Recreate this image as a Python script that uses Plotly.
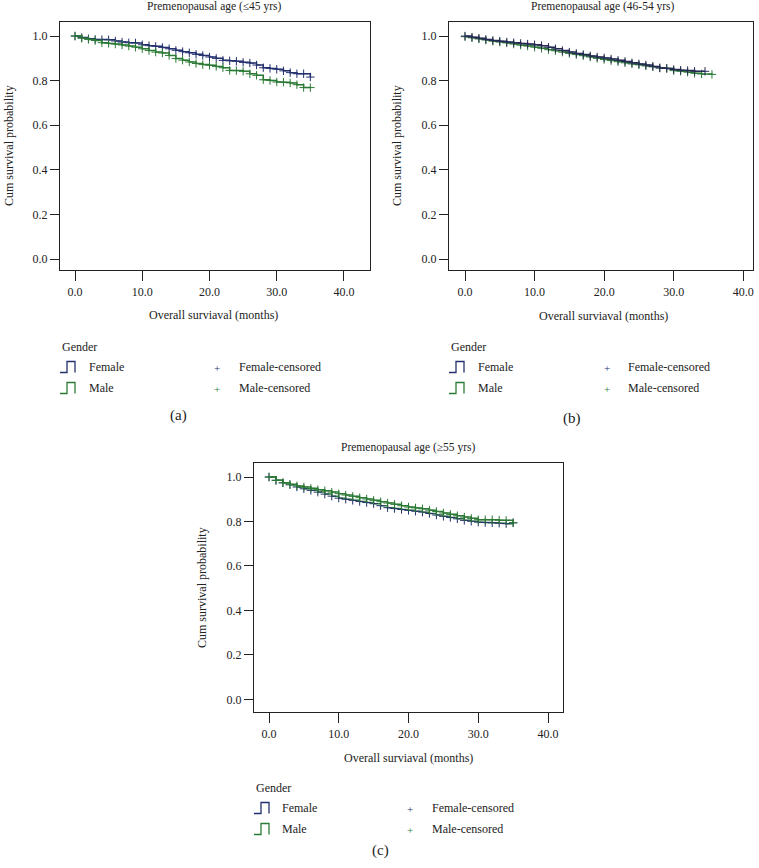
import plotly.graph_objects as go

W, H = 759, 868
NAVY = "#24306e"
GREEN = "#2b7a35"
FONT = "Liberation Serif"

# ---------------- data ----------------
months = list(range(0, 36))

# Panel (a) Premenopausal age (<=45 yrs)
a_female = [1.000, 0.993, 0.988, 0.985, 0.984, 0.983, 0.978, 0.973, 0.970, 0.969,
            0.961, 0.957, 0.954, 0.949, 0.943, 0.936, 0.930, 0.925, 0.918, 0.913,
            0.906, 0.900, 0.891, 0.889, 0.887, 0.882, 0.879, 0.870, 0.858, 0.855,
            0.851, 0.844, 0.836, 0.831, 0.831, 0.816]
a_male = [1.000, 0.990, 0.985, 0.980, 0.970, 0.967, 0.964, 0.960, 0.955, 0.950,
          0.943, 0.935, 0.928, 0.924, 0.913, 0.899, 0.892, 0.884, 0.877, 0.872,
          0.869, 0.864, 0.858, 0.846, 0.845, 0.842, 0.831, 0.824, 0.804, 0.801,
          0.794, 0.793, 0.790, 0.782, 0.769, 0.769]

# Panel (b) Premenopausal age (46-54 yrs)
b_months_f = [0, 1, 2, 3, 4, 5, 6, 7, 8, 9, 10, 11, 12, 13, 14, 15, 16, 17, 18, 19,
              20, 21, 22, 23, 24, 25, 26, 27, 28, 29, 30, 31, 32, 33, 34.5]
b_female = [1.000, 0.995, 0.990, 0.985, 0.980, 0.977, 0.973, 0.970, 0.967, 0.964,
            0.961, 0.957, 0.950, 0.943, 0.935, 0.928, 0.922, 0.917, 0.911, 0.906,
            0.902, 0.897, 0.891, 0.886, 0.880, 0.875, 0.870, 0.864, 0.857, 0.855,
            0.850, 0.847, 0.845, 0.842, 0.842]
b_months_m = [0, 1, 2, 3, 4, 5, 6, 7, 8, 9, 10, 11, 12, 13, 14, 15, 16, 17, 18, 19,
              20, 21, 22, 23, 24, 25, 26, 27, 28, 29, 30, 31, 32, 33, 34, 35.5]
b_male = [0.997, 0.992, 0.987, 0.982, 0.977, 0.973, 0.969, 0.964, 0.959, 0.955,
          0.950, 0.945, 0.939, 0.934, 0.928, 0.922, 0.917, 0.912, 0.906, 0.900,
          0.895, 0.890, 0.885, 0.880, 0.875, 0.871, 0.866, 0.862, 0.857, 0.855,
          0.845, 0.842, 0.838, 0.833, 0.830, 0.828]

# Panel (c) Premenopausal age (>=55 yrs)
c_male = [1.000, 0.985, 0.974, 0.967, 0.960, 0.955, 0.949, 0.943, 0.938, 0.932,
          0.925, 0.919, 0.913, 0.907, 0.901, 0.895, 0.889, 0.883, 0.877, 0.871,
          0.865, 0.861, 0.857, 0.851, 0.845, 0.838, 0.832, 0.826, 0.820, 0.814,
          0.808, 0.808, 0.808, 0.806, 0.805, 0.794]
c_female = [1.000, 0.985, 0.974, 0.965, 0.955, 0.947, 0.940, 0.932, 0.923, 0.914,
            0.905, 0.900, 0.895, 0.890, 0.885, 0.880, 0.871, 0.862, 0.858, 0.854,
            0.850, 0.846, 0.842, 0.836, 0.829, 0.823, 0.818, 0.812, 0.805, 0.801,
            0.797, 0.795, 0.794, 0.792, 0.790, 0.794]

x_ticks = [0, 10, 20, 30, 40]
x_ticklabels = ["0.0", "10.0", "20.0", "30.0", "40.0"]
y_ticks = [0.0, 0.2, 0.4, 0.6, 0.8, 1.0]
y_ticklabels = ["0.0", "0.2", "0.4", "0.6", "0.8", "1.0"]

titles = ["Premenopausal age (\u226445 yrs)", "Premenopausal age (46-54 yrs)",
          "Premenopausal age (\u226555 yrs)"]
captions = ["(a)", "(b)", "(c)"]
legend_title = "Gender"
legend_labels = ["Female", "Male", "Female-censored", "Male-censored"]
x_title = "Overall surviaval (months)"
y_title = "Cum survival probability"

# ---------------- layout geometry (pixels) ----------------
panels = [
    dict(box=(60, 370, 22, 270), xr=(-2.23, 43.87), yr=(-0.049, 1.063)),
    dict(box=(449, 753, 22, 270), xr=(-2.3, 41.4), yr=(-0.049, 1.063)),
    dict(box=(254, 563, 463, 712), xr=(-2.15, 42.15), yr=(-0.057, 1.063)),
]

def px(x):
    return x / W

def py(y):
    return 1 - y / H

fig = go.Figure()

series = [
    [(months, a_female, NAVY, NAVY), (months, a_male, GREEN, GREEN)],
    [(b_months_m, b_male, GREEN, GREEN), (b_months_f, b_female, "#262a55", "#262a55")],
    [(months, c_female, GREEN, NAVY), (months, c_male, GREEN, GREEN)],
]

for i, p in enumerate(panels):
    sfx = "" if i == 0 else str(i + 1)
    xa, ya = "x" + sfx, "y" + sfx
    for (t, s, lc, mc) in series[i]:
        fig.add_trace(go.Scatter(x=t, y=s, mode="lines", line=dict(color=lc, width=1.5, shape="hv"),
                                 xaxis=xa, yaxis=ya, showlegend=False, hoverinfo="skip"))
        fig.add_trace(go.Scatter(x=t, y=s, mode="markers",
                                 marker=dict(symbol="cross-thin", size=6, line=dict(color=mc, width=1)),
                                 xaxis=xa, yaxis=ya, showlegend=False, hoverinfo="skip"))
    x0, x1, y0, y1 = p["box"]
    axfont = dict(family=FONT, size=12, color="#222")
    fig.update_layout(**{
        "xaxis" + sfx: dict(domain=[px(x0), px(x1)], range=list(p["xr"]), anchor=ya,
                            tickvals=x_ticks, ticktext=x_ticklabels, ticks="outside", ticklen=10,
                            tickcolor="#222", showline=True, mirror=True, linecolor="#222", linewidth=1.2,
                            showgrid=False, zeroline=False, tickfont=axfont, fixedrange=True,
                            ticklabeloverflow="allow"),
        "yaxis" + sfx: dict(domain=[py(y1), py(y0)], range=list(p["yr"]), anchor=xa,
                            tickvals=y_ticks, ticktext=y_ticklabels, ticks="outside", ticklen=9,
                            tickcolor="#222", showline=True, mirror=True, linecolor="#222", linewidth=1.2,
                            showgrid=False, zeroline=False, tickfont=axfont, fixedrange=True),
    })

annotations = []
shapes = []

def text(x, y, s, size=11, anchor="left", color="#222", angle=0):
    annotations.append(dict(x=px(x), y=py(y), xref="paper", yref="paper", text=s, showarrow=False,
                            xanchor=anchor, yanchor="middle", textangle=angle,
                            font=dict(family=FONT, size=size, color=color)))

# titles, axis titles, captions
title_pos = [(214, 7), (603, 7), (408, 447)]
xt_pos = [(213, 315), (603, 316), (409, 758)]
yt_pos = [(9, 146), (397, 146), (202, 587)]
cap_pos = [(178, 416), (572, 418), (380, 850)]
for i in range(3):
    text(*title_pos[i], titles[i], size=11.5, anchor="center")
    text(*xt_pos[i], x_title, size=12, anchor="center")
    text(*yt_pos[i], y_title, size=12, anchor="center", angle=-90)
    text(*cap_pos[i], captions[i], size=15, anchor="center")

# legends
leg_pos = [(60, 347, 87, 217, 237), (449, 347, 476, 607, 626), (254, 788, 280, 410, 430)]
for (gx, gy, tx, cx, ctx) in leg_pos:
    text(gx, gy, legend_title, size=12)
    for r, (lab, clab, col) in enumerate([(legend_labels[0], legend_labels[2], NAVY),
                                          (legend_labels[1], legend_labels[3], GREEN)]):
        yy = gy + 20 + r * 21
        path = "M {},{} L {},{} L {},{} L {},{} L {},{}".format(
            px(gx), py(yy + 5.5), px(gx + 7), py(yy + 5.5), px(gx + 7), py(yy - 5.5),
            px(gx + 15), py(yy - 5.5), px(gx + 15), py(yy + 5.5))
        shapes.append(dict(type="path", xref="paper", yref="paper", path=path,
                           line=dict(color=col, width=1.3)))
        text(tx, yy, lab, size=12)
        text(cx, yy + 1, "+", size=11, anchor="center", color=col)
        text(ctx, yy, clab, size=12)

fig.update_layout(width=W, height=H, margin=dict(l=0, r=0, t=0, b=0),
                  paper_bgcolor="white", plot_bgcolor="white",
                  annotations=annotations, shapes=shapes, showlegend=False)

fig.write_html("out.html", config={"displayModeBar": False},
               post_script="document.body.style.margin='0px';document.body.style.overflow='hidden';")
